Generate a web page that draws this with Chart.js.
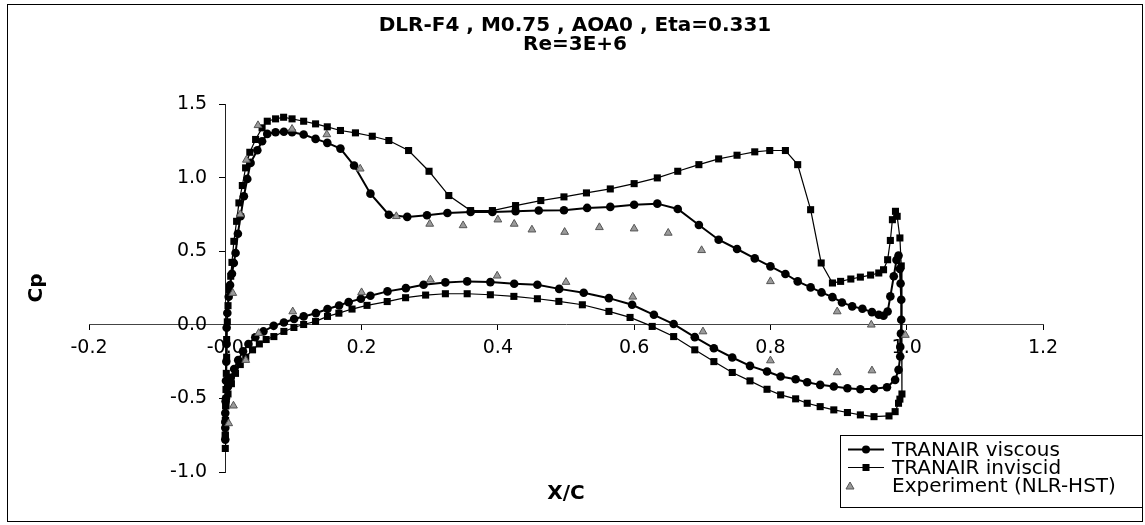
<!DOCTYPE html>
<html>
<head>
<meta charset="utf-8">
<script src="https://cdn.jsdelivr.net/npm/chart.js@4.4.1/dist/chart.umd.min.js"></script>
<style>
  html, body { margin: 0; padding: 0; background: #fff; }
</style>
</head>
<body>
<canvas id="cp-chart" width="1145" height="525"></canvas>
<script>
const titleLines = ['DLR-F4 , M0.75 , AOA0 , Eta=0.331', 'Re=3E+6']
const xTitle = 'X/C'
const yTitle = 'Cp'
const seriesNames = ['TRANAIR viscous', 'TRANAIR inviscid', 'Experiment (NLR-HST)']

// TRANAIR viscous: stagnation -> upper surface -> TE -> lower surface -> LE
const viscousX = [0.000, 0.000, 0.0005, 0.001, 0.0015, 0.002, 0.002, 0.003, 0.005, 0.007,
  0.0098, 0.0125, 0.0151, 0.0185, 0.0224, 0.0273, 0.0323, 0.0371, 0.047, 0.054,
  0.0616, 0.0738, 0.086, 0.098, 0.115, 0.1325, 0.1497, 0.169, 0.189, 0.213,
  0.240, 0.267, 0.296, 0.326, 0.360, 0.392, 0.426, 0.460, 0.497, 0.531,
  0.565, 0.600, 0.634, 0.664, 0.695, 0.724, 0.751, 0.777, 0.800, 0.822,
  0.840, 0.859, 0.875, 0.891, 0.905, 0.920, 0.935, 0.949, 0.959, 0.966,
  0.972, 0.976, 0.981, 0.985, 0.988, 0.990, 0.991, 0.992, 0.992, 0.9915,
  0.9905, 0.9905, 0.988, 0.983, 0.971, 0.952, 0.932, 0.913, 0.893, 0.873,
  0.854, 0.837, 0.815, 0.795, 0.770, 0.744, 0.717, 0.689, 0.658, 0.629,
  0.597, 0.563, 0.526, 0.490, 0.458, 0.424, 0.389, 0.355, 0.323, 0.291,
  0.265, 0.238, 0.213, 0.199, 0.181, 0.167, 0.150, 0.133, 0.115, 0.101,
  0.086, 0.071, 0.056, 0.044, 0.034, 0.026, 0.019, 0.013, 0.008, 0.004,
  0.001, 0.000, 0.000]
const viscousCp = [-0.78, -0.66, -0.52, -0.38, -0.25, -0.13, -0.02, 0.08, 0.19, 0.27,
  0.347, 0.42, 0.488, 0.619, 0.737, 0.873, 0.991, 1.100, 1.186, 1.247,
  1.297, 1.308, 1.311, 1.308, 1.293, 1.263, 1.236, 1.197, 1.082, 0.891,
  0.748, 0.733, 0.744, 0.760, 0.767, 0.767, 0.771, 0.776, 0.778, 0.794,
  0.801, 0.816, 0.823, 0.787, 0.678, 0.578, 0.515, 0.451, 0.397, 0.345,
  0.295, 0.254, 0.220, 0.188, 0.152, 0.125, 0.109, 0.086, 0.068, 0.061,
  0.090, 0.193, 0.330, 0.440, 0.470, 0.380, 0.280, 0.170, 0.034, -0.060,
  -0.150, -0.215, -0.306, -0.374, -0.424, -0.435, -0.438, -0.431, -0.419, -0.408,
  -0.390, -0.370, -0.351, -0.317, -0.279, -0.222, -0.159, -0.084, 0.005, 0.068,
  0.136, 0.181, 0.218, 0.244, 0.272, 0.279, 0.290, 0.295, 0.288, 0.272,
  0.249, 0.227, 0.197, 0.177, 0.154, 0.131, 0.107, 0.079, 0.057, 0.039,
  0.016, -0.007, -0.045, -0.085, -0.130, -0.180, -0.240, -0.300, -0.360, -0.420,
  -0.500, -0.600, -0.700]

// TRANAIR inviscid
const inviscidX = [0.000, 0.000, 0.0005, 0.0005, 0.001, 0.0015, 0.002, 0.002, 0.003, 0.004,
  0.006, 0.008, 0.0098, 0.0126, 0.0166, 0.020, 0.025, 0.0298, 0.036, 0.0445,
  0.054, 0.0616, 0.0738, 0.0856, 0.098, 0.115, 0.1325, 0.1497, 0.169, 0.191,
  0.2157, 0.240, 0.269, 0.299, 0.328, 0.360, 0.392, 0.426, 0.463, 0.497,
  0.530, 0.565, 0.600, 0.634, 0.664, 0.695, 0.724, 0.751, 0.777, 0.799,
  0.822, 0.840, 0.859, 0.8745, 0.891, 0.903, 0.918, 0.932, 0.947, 0.959,
  0.966, 0.972, 0.976, 0.979, 0.9835, 0.986, 0.990, 0.992,
  0.993, 0.990, 0.988, 0.983, 0.974, 0.952, 0.932, 0.913, 0.893, 0.873,
  0.854, 0.837, 0.815, 0.795, 0.770, 0.744, 0.717, 0.689, 0.658, 0.6265,
  0.594, 0.563, 0.524, 0.4895, 0.458, 0.4235, 0.389, 0.355, 0.323, 0.294,
  0.2646, 0.2376, 0.208, 0.186, 0.1667, 0.150, 0.1325, 0.115, 0.1007, 0.086,
  0.0713, 0.060, 0.050, 0.040, 0.030, 0.022, 0.015, 0.009, 0.004, 0.001,
  0.000, 0.000]
const inviscidCp = [-0.84, -0.75, -0.65, -0.55, -0.44, -0.33, -0.22, -0.10, 0.02, 0.13,
  0.24, 0.33, 0.424, 0.567, 0.703, 0.828, 0.946, 1.066, 1.172, 1.259,
  1.338, 1.383, 1.399, 1.410, 1.399, 1.383, 1.365, 1.345, 1.320, 1.304,
  1.281, 1.252, 1.184, 1.043, 0.878, 0.776, 0.776, 0.810, 0.844, 0.869,
  0.896, 0.923, 0.959, 0.998, 1.043, 1.088, 1.127, 1.152, 1.175, 1.184,
  1.184, 1.088, 0.782, 0.420, 0.284, 0.295, 0.311, 0.324, 0.338, 0.352,
  0.374, 0.442, 0.573, 0.714, 0.771, 0.737, 0.590, 0.400,
  -0.470, -0.505, -0.533, -0.590, -0.619, -0.624, -0.612, -0.596, -0.578, -0.556,
  -0.533, -0.503, -0.476, -0.438, -0.381, -0.324, -0.250, -0.170, -0.080, -0.011,
  0.050, 0.091, 0.136, 0.159, 0.177, 0.193, 0.204, 0.211, 0.211, 0.202,
  0.184, 0.158, 0.132, 0.107, 0.079, 0.057, 0.023, 0.002, -0.018, -0.045,
  -0.080, -0.100, -0.130, -0.170, -0.220, -0.270, -0.330, -0.400, -0.470, -0.550,
  -0.650, -0.750]

// Experiment (NLR-HST), upper then lower taps
const expX = [0.011, 0.022, 0.031, 0.048, 0.098, 0.149, 0.198, 0.251, 0.300, 0.349,
  0.400, 0.424, 0.450, 0.498, 0.549, 0.600, 0.650, 0.699, 0.800, 0.898,
  0.948, 0.998,
  0.005, 0.012, 0.030, 0.049, 0.099, 0.200, 0.301, 0.399, 0.500, 0.598,
  0.701, 0.800, 0.898, 0.949]
const expCp = [0.215, 0.750, 1.120, 1.355, 1.330, 1.293, 1.060, 0.737, 0.685, 0.675,
  0.714, 0.685, 0.646, 0.630, 0.662, 0.653, 0.624, 0.506, 0.295, 0.090,
  0.000, -0.070,
  -0.670, -0.550, -0.240, -0.057, 0.090, 0.220, 0.306, 0.333, 0.290, 0.190,
  -0.046, -0.243, -0.324, -0.311]

const toPoints = (xs, ys) => xs.map((x, i) => ({ x: x, y: ys[i] }))

// title, axis titles, frame and legend box
const decor = {
  id: 'decor',
  afterDraw(chart) {
    const ctx = chart.ctx
    ctx.save()
    ctx.strokeStyle = '#000'
    ctx.lineWidth = 1
    ctx.strokeRect(7.5, 4.5, 1135, 517)

    ctx.fillStyle = '#000'
    ctx.textAlign = 'center'
    ctx.textBaseline = 'middle'
    ctx.font = 'bold 20px "DejaVu Sans"'
    titleLines.forEach((t, i) => ctx.fillText(t, 575, 26 + i * 19))
    ctx.fillText(xTitle, 566, 494)
    ctx.save()
    ctx.translate(37, 288)
    ctx.rotate(-Math.PI / 2)
    ctx.fillText(yTitle, 0, 0)
    ctx.restore()

    // legend
    ctx.fillStyle = '#fff'
    ctx.fillRect(840.5, 435.5, 302, 72)
    ctx.strokeRect(840.5, 435.5, 302, 72)
    const rows = [449.5, 467.5, 486]
    ctx.font = '20px "DejaVu Sans"'
    ctx.textAlign = 'left'
    seriesNames.forEach((name, i) => {
      const y = rows[i]
      ctx.fillStyle = '#000'
      ctx.strokeStyle = '#000'
      if (i < 2) {
        ctx.lineWidth = i == 0 ? 2 : 1.2
        ctx.beginPath()
        ctx.moveTo(848, y)
        ctx.lineTo(884, y)
        ctx.stroke()
      }
      if (i == 0) {
        ctx.beginPath()
        ctx.arc(866, y, 4, 0, Math.PI * 2)
        ctx.fill()
      } else if (i == 1) {
        ctx.fillRect(862.5, y - 3.5, 7, 7)
      } else {
        ctx.fillStyle = '#999'
        ctx.strokeStyle = '#555'
        ctx.lineWidth = 1
        ctx.beginPath()
        ctx.moveTo(850, y - 4)
        ctx.lineTo(854, y + 3)
        ctx.lineTo(846, y + 3)
        ctx.closePath()
        ctx.fill()
        ctx.stroke()
      }
      ctx.fillStyle = '#000'
      ctx.fillText(name, 892, y + 1)
    })
    ctx.restore()
  }
}

const CHART = document.getElementById('cp-chart')

let myChart = new Chart(CHART, {
  type: 'scatter',
  data: {
    datasets: [
      { label: seriesNames[2],
        data: toPoints(expX, expCp),
        showLine: false,
        pointStyle: 'triangle',
        pointRadius: 4.5,
        backgroundColor: '#9a9a9a',
        borderColor: '#555',
        borderWidth: 1,
        order: 0
      },
      { label: seriesNames[0],
        data: toPoints(viscousX, viscousCp),
        showLine: true,
        borderColor: '#000',
        backgroundColor: '#000',
        borderWidth: 2,
        pointStyle: 'circle',
        pointRadius: 4.3,
        pointBorderWidth: 0,
        order: 1
      },
      { label: seriesNames[1],
        data: toPoints(inviscidX, inviscidCp),
        showLine: true,
        borderColor: '#000',
        backgroundColor: '#000',
        borderWidth: 1.2,
        pointStyle: 'rect',
        pointRadius: 5,
        pointBorderWidth: 0,
        order: 2
      },
    ]
  },
  options: {
    responsive: false,
    animation: false,
    layout: { padding: { left: 89, right: 102, top: 104, bottom: 53 } },
    plugins: {
      legend: { display: false },
      title: { display: false },
      tooltip: { enabled: false }
    },
    scales: {
      x: {
        type: 'linear',
        min: -0.2,
        max: 1.2,
        position: { y: 0 },
        grid: { drawOnChartArea: false, drawTicks: true, tickLength: 5, color: '#000' },
        border: { display: true, color: '#444', width: 1 },
        ticks: {
          stepSize: 0.2,
          padding: 7,
          color: '#000',
          font: { family: 'DejaVu Sans', size: 19 },
          callback: v => v.toFixed(1)
        }
      },
      y: {
        type: 'linear',
        min: -1.0,
        max: 1.5,
        position: { x: 0 },
        grid: { drawOnChartArea: false, drawTicks: true, tickLength: 6, color: '#000' },
        border: { display: true, color: '#222', width: 1 },
        ticks: {
          stepSize: 0.5,
          color: '#000',
          font: { family: 'DejaVu Sans', size: 19 },
          callback: v => v.toFixed(1) + '   '
        }
      }
    }
  },
  plugins: [decor]
});
</script>
</body>
</html>
